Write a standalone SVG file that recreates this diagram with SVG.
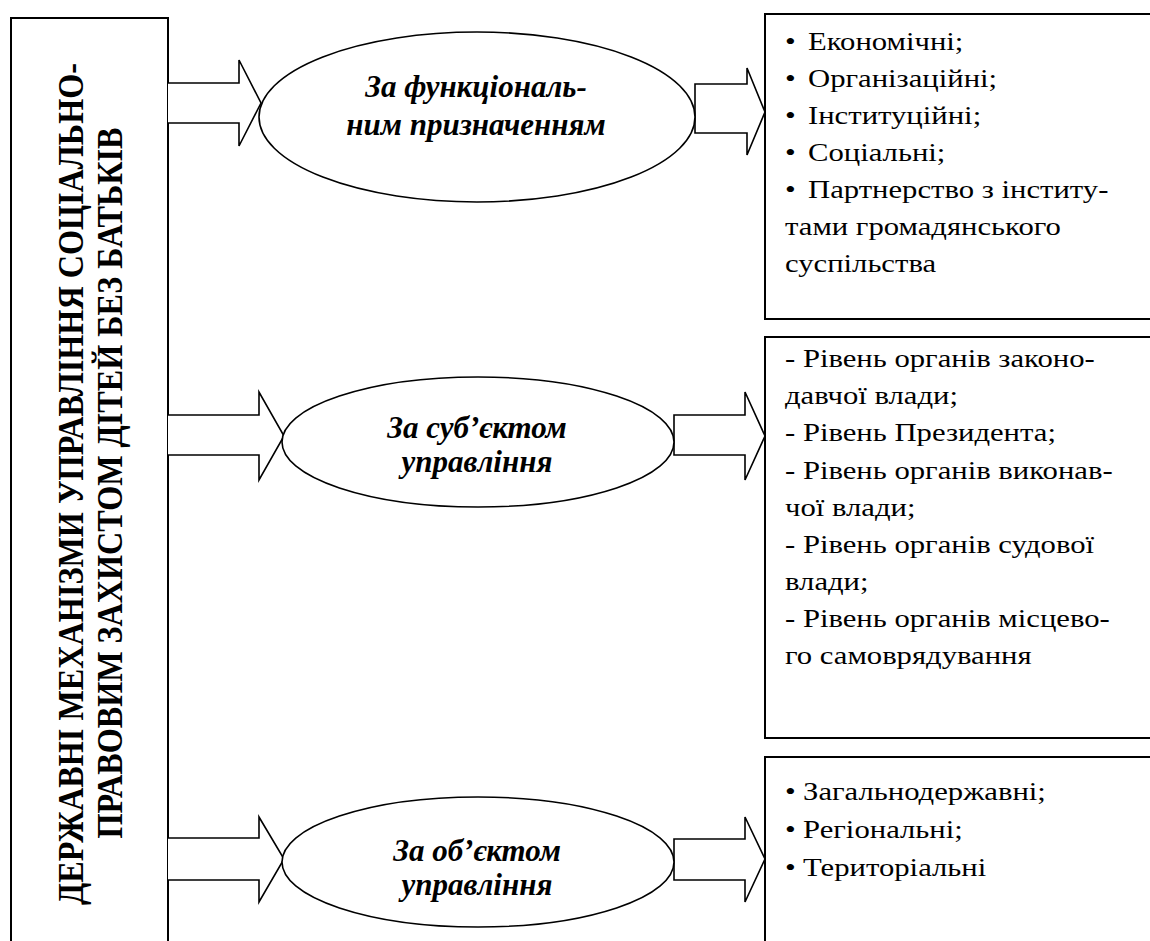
<svg xmlns="http://www.w3.org/2000/svg" width="1150" height="941" viewBox="0 0 1150 941">
<style>
.box{fill:#fff;stroke:#000;stroke-width:2}
.ell{fill:#fff;stroke:#000;stroke-width:1.6}
.arr{fill:#fff;stroke:#000;stroke-width:1.6;stroke-linejoin:miter}
</style>
<g id="main">
<rect class="box" x="11" y="18" width="157" height="940"/>
<text font-family="Liberation Serif" font-weight="bold" font-size="29.5" fill="#000" text-anchor="middle" transform="translate(83,484) scale(1.18,1) rotate(-90)" textLength="842" lengthAdjust="spacingAndGlyphs">ДЕРЖАВНІ МЕХАНІЗМИ УПРАВЛІННЯ СОЦІАЛЬНО-</text>
<text font-family="Liberation Serif" font-weight="bold" font-size="29.5" fill="#000" text-anchor="middle" transform="translate(122,483) scale(1.18,1) rotate(-90)" textLength="711" lengthAdjust="spacingAndGlyphs">ПРАВОВИМ ЗАХИСТОМ ДІТЕЙ БЕЗ БАТЬКІВ</text>
</g>
<g id="connectors">
<path class="arr" d="M168,83 H239 V60 L261,103 L239,146 V123 H168"/>
<path class="arr" d="M168,415 H259 V392 L284,436 L259,480 V455 H168"/>
<path class="arr" d="M168,838 H259 V817 L284,859 L259,902 V880 H168"/>
<path class="arr" d="M695,84 H747 V68 L765,112 L747,155 V133 H695 Z"/>
<path class="arr" d="M674,415 H745 V392 L765,436 L745,480 V455 H674 Z"/>
<path class="arr" d="M674,839 H745 V817 L765,859 L745,902 V880 H674 Z"/>
</g>
<g id="ellipse1">
<ellipse class="ell" cx="477" cy="117" rx="218" ry="85"/>
<text font-family="Liberation Serif" font-weight="bold" font-style="italic" font-size="31" text-anchor="middle" x="476" y="97">За функціональ-</text>
<text font-family="Liberation Serif" font-weight="bold" font-style="italic" font-size="31" text-anchor="middle" x="476" y="135">ним призначенням</text>
</g>
<g id="ellipse2">
<ellipse class="ell" cx="478" cy="442" rx="196" ry="65"/>
<text font-family="Liberation Serif" font-weight="bold" font-style="italic" font-size="31" text-anchor="middle" x="477" y="438">За суб’єктом</text>
<text font-family="Liberation Serif" font-weight="bold" font-style="italic" font-size="31" text-anchor="middle" x="477" y="472">управління</text>
</g>
<g id="ellipse3">
<ellipse class="ell" cx="478" cy="862" rx="196" ry="65"/>
<text font-family="Liberation Serif" font-weight="bold" font-style="italic" font-size="31" text-anchor="middle" x="477" y="861">За об’єктом</text>
<text font-family="Liberation Serif" font-weight="bold" font-style="italic" font-size="31" text-anchor="middle" x="477" y="895">управління</text>
</g>
<g id="box1">
<rect class="box" x="765" y="14" width="400" height="305"/>
<g transform="translate(785,0) scale(1.18,1)" fill="#000">
<text font-family="Liberation Serif" font-size="26" x="0" y="50">•</text><text font-family="Liberation Serif" font-size="26" x="19.5" y="50">Економічні;</text>
<text font-family="Liberation Serif" font-size="26" x="0" y="87">•</text><text font-family="Liberation Serif" font-size="26" x="19.5" y="87">Організаційні;</text>
<text font-family="Liberation Serif" font-size="26" x="0" y="124">•</text><text font-family="Liberation Serif" font-size="26" x="19.5" y="124">Інституційні;</text>
<text font-family="Liberation Serif" font-size="26" x="0" y="161">•</text><text font-family="Liberation Serif" font-size="26" x="19.5" y="161">Соціальні;</text>
<text font-family="Liberation Serif" font-size="26" x="0" y="198">•</text><text font-family="Liberation Serif" font-size="26" x="19.5" y="198">Партнерство з інститу-</text>
<text font-family="Liberation Serif" font-size="26" x="0" y="235">тами громадянського</text>
<text font-family="Liberation Serif" font-size="26" x="0" y="272">суспільства</text>
</g>
</g>
<g id="box2">
<rect class="box" x="765" y="337" width="400" height="401"/>
<g transform="translate(785,0) scale(1.18,1)" fill="#000">
<text font-family="Liberation Serif" font-size="26" x="0" y="367">- Рівень органів законо-</text>
<text font-family="Liberation Serif" font-size="26" x="0" y="404">давчої влади;</text>
<text font-family="Liberation Serif" font-size="26" x="0" y="441">- Рівень Президента;</text>
<text font-family="Liberation Serif" font-size="26" x="0" y="479">- Рівень органів виконав-</text>
<text font-family="Liberation Serif" font-size="26" x="0" y="516">чої влади;</text>
<text font-family="Liberation Serif" font-size="26" x="0" y="553">- Рівень органів судової</text>
<text font-family="Liberation Serif" font-size="26" x="0" y="590">влади;</text>
<text font-family="Liberation Serif" font-size="26" x="0" y="627">- Рівень органів місцево-</text>
<text font-family="Liberation Serif" font-size="26" x="0" y="664">го самоврядування</text>
</g>
</g>
<g id="box3">
<rect class="box" x="765" y="757" width="400" height="200"/>
<g transform="translate(785,0) scale(1.18,1)" fill="#000">
<text font-family="Liberation Serif" font-size="26" x="0" y="800">•</text><text font-family="Liberation Serif" font-size="26" x="15.3" y="800">Загальнодержавні;</text>
<text font-family="Liberation Serif" font-size="26" x="0" y="838">•</text><text font-family="Liberation Serif" font-size="26" x="15.3" y="838">Регіональні;</text>
<text font-family="Liberation Serif" font-size="26" x="0" y="876">•</text><text font-family="Liberation Serif" font-size="26" x="15.3" y="876">Територіальні</text>
</g>
</g>
</svg>
